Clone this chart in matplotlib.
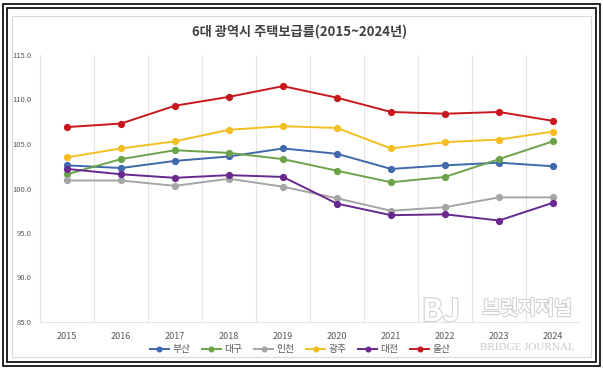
import matplotlib
matplotlib.use("Agg")
import matplotlib.pyplot as plt
import matplotlib.patheffects as pe
from matplotlib.patches import Rectangle

plt.rcParams['font.family'] = ['Noto Sans CJK KR', 'DejaVu Sans']

years = ['2015', '2016', '2017', '2018', '2019', '2020', '2021', '2022', '2023', '2024']
busan = [102.6, 102.3, 103.1, 103.6, 104.5, 103.9, 102.2, 102.6, 102.9, 102.5]
daegu = [101.6, 103.3, 104.3, 104.0, 103.3, 102.0, 100.7, 101.3, 103.3, 105.3]
incheon = [100.9, 100.9, 100.3, 101.1, 100.2, 98.9, 97.5, 97.9, 99.0, 99.0]
gwangju = [103.5, 104.5, 105.3, 106.6, 107.0, 106.8, 104.5, 105.2, 105.5, 106.4]
daejeon = [102.2, 101.6, 101.2, 101.5, 101.3, 98.3, 97.0, 97.1, 96.4, 98.4]
ulsan = [106.9, 107.3, 109.3, 110.3, 111.5, 110.2, 108.6, 108.4, 108.6, 107.6]

series = [('부산', busan, '#4068AC'), ('대구', daegu, '#6CA34A'),
          ('인천', incheon, '#A5A5A5'), ('광주', gwangju, '#F3BE22'),
          ('대전', daejeon, '#68288E'), ('울산', ulsan, '#C8181E')]

fig = plt.figure(figsize=(6.03, 3.70), dpi=100)

# outer double frame and inner chart border
for (x0, y0, x1, y1, c, lw) in [(3, 4, 600, 366, 'black', 1.2), (7, 8, 596, 362, 'black', 1.2),
                                 (12, 16, 591, 357, '#D9D9D9', 0.8)]:
    fig.add_artist(Rectangle((x0 / 603, 1 - y1 / 370), (x1 - x0) / 603, (y1 - y0) / 370,
                             transform=fig.transFigure, fill=False, edgecolor=c, linewidth=lw))

ax = fig.add_axes([40 / 603, 1 - 322 / 370, 540 / 603, 267 / 370])
x = list(range(len(years)))
for name, vals, col in series:
    ax.plot(x, vals, color=col, linewidth=1.4, marker='o', markersize=4.2, label=name)

ax.set_xlim(-0.5, len(years) - 0.5)
ax.set_ylim(85, 115)
ax.set_yticks([85, 90, 95, 100, 105, 110, 115])
ax.set_yticklabels([f'{v:.1f}' for v in [85, 90, 95, 100, 105, 110, 115]])
ax.set_xticks(x)
ax.set_xticklabels(years)
ax.set_xticks([i + 0.5 for i in x[:-1]], minor=True)
ax.grid(True, which='minor', axis='x', color='#E6E6E6', linewidth=0.8)
ax.tick_params(which='both', length=0)
ax.tick_params(axis='y', labelsize=5.5, colors='#595959', pad=6)
ax.tick_params(axis='x', labelsize=6.5, colors='#595959', pad=7)
for s in ['top', 'right']:
    ax.spines[s].set_visible(False)
for s in ['left', 'bottom']:
    ax.spines[s].set_color('#E6E6E6')
    ax.spines[s].set_linewidth(0.8)

fig.text(300 / 603, 1 - 32 / 370, '6대 광역시 주택보급률(2015~2024년)', ha='center', va='center',
         fontsize=9.5, fontweight='bold', color='#404040')

fig.legend(loc='center', bbox_to_anchor=(300 / 603, 1 - 349 / 370), ncol=6, frameon=False,
           fontsize=7, labelcolor='#595959', handlelength=2.0, handletextpad=0.3,
           columnspacing=1.2, markerscale=0.8)

# watermark (white with faint grey outline)
halo = [pe.withStroke(linewidth=1.5, foreground='#D0D0D0')]
fig.text(441 / 603, 1 - 312 / 370, 'BJ', fontsize=22, fontweight='bold', color='white',
         ha='center', va='center', path_effects=halo)
fig.text(527 / 603, 1 - 309 / 370, '브릿지저널', fontsize=14, fontweight='bold', color='white',
         ha='center', va='center', path_effects=halo)
fig.text(527 / 603, 1 - 348 / 370, 'BRIDGE JOURNAL', fontsize=8, color='#C8C8C8',
         ha='center', va='center', family='Liberation Serif')

fig.savefig('out.png', dpi=100)
